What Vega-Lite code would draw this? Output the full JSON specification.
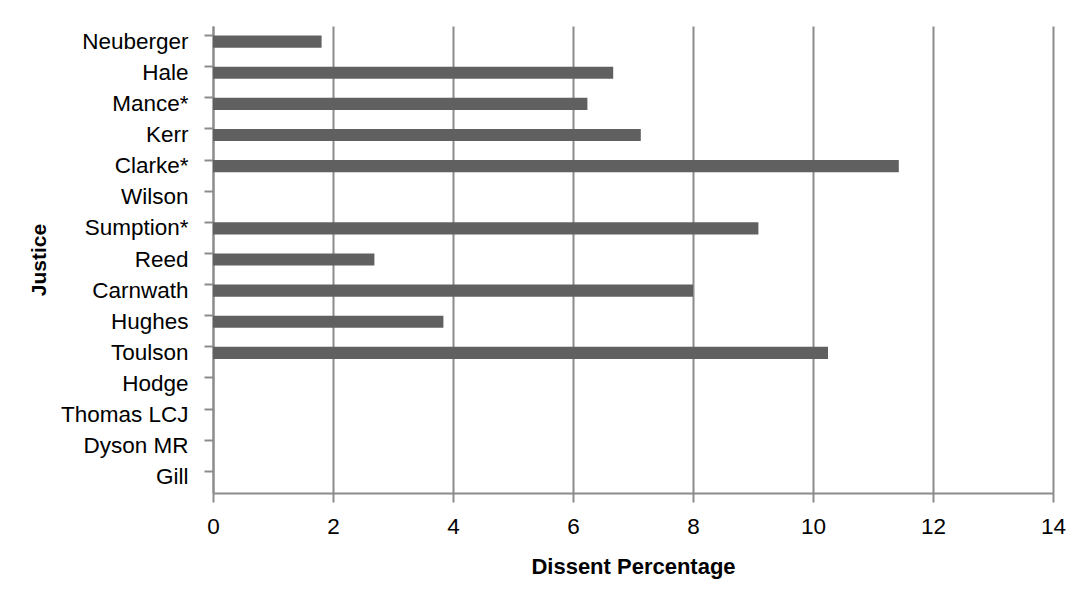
{
  "$schema": "https://vega.github.io/schema/vega-lite/v6.json",
  "autosize": "none",
  "width": 840,
  "height": 467,
  "padding": {"left": 213, "top": 26, "right": 25, "bottom": 104},
  "background": "white",
  "config": {
    "font": "Liberation Sans",
    "view": {"stroke": null}
  },
  "data": {
    "values": [
      {"justice": "Neuberger", "dissent": 1.81},
      {"justice": "Hale", "dissent": 6.67},
      {"justice": "Mance*", "dissent": 6.24},
      {"justice": "Kerr", "dissent": 7.13},
      {"justice": "Clarke*", "dissent": 11.43},
      {"justice": "Wilson", "dissent": 0},
      {"justice": "Sumption*", "dissent": 9.09},
      {"justice": "Reed", "dissent": 2.69},
      {"justice": "Carnwath", "dissent": 8.0},
      {"justice": "Hughes", "dissent": 3.84},
      {"justice": "Toulson", "dissent": 10.25},
      {"justice": "Hodge", "dissent": 0},
      {"justice": "Thomas LCJ", "dissent": 0},
      {"justice": "Dyson MR", "dissent": 0},
      {"justice": "Gill", "dissent": 0}
    ]
  },
  "mark": {"type": "bar", "color": "#606060"},
  "encoding": {
    "y": {
      "field": "justice",
      "type": "nominal",
      "sort": null,
      "scale": {"paddingInner": 0.61, "paddingOuter": 0.305},
      "axis": {
        "title": "Justice",
        "titleFont": "Liberation Sans",
        "titleFontSize": 21,
        "titleFontWeight": "bold",
        "titleColor": "#000000",
        "titlePadding": 11,
        "labelFont": "Liberation Sans",
        "labelFontSize": 22.5,
        "labelColor": "#000000",
        "labelPadding": 16,
        "tickSize": 9,
        "tickWidth": 2,
        "tickColor": "#8c8c8c",
        "bandPosition": 0,
        "domainColor": "#8c8c8c",
        "domainWidth": 2,
        "grid": false
      }
    },
    "x": {
      "field": "dissent",
      "type": "quantitative",
      "scale": {"domain": [0, 14], "nice": false},
      "axis": {
        "title": "Dissent Percentage",
        "values": [0, 2, 4, 6, 8, 10, 12, 14],
        "titleFont": "Liberation Sans",
        "titleFontSize": 22,
        "titleFontWeight": "bold",
        "titleColor": "#000000",
        "titlePadding": 19,
        "labelFont": "Liberation Sans",
        "labelFontSize": 22.5,
        "labelColor": "#000000",
        "labelPadding": 13,
        "labelFlush": false,
        "tickSize": 9,
        "tickWidth": 2,
        "tickColor": "#8c8c8c",
        "domainColor": "#8c8c8c",
        "domainWidth": 2,
        "grid": true,
        "gridColor": "#8c8c8c",
        "gridWidth": 2
      }
    }
  }
}
